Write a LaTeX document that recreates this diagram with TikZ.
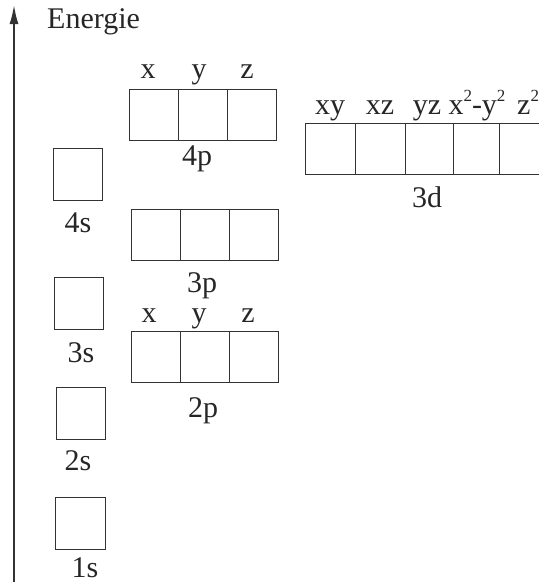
\documentclass[tikz,border=0pt]{standalone}
\usepackage{fontspec}
\setmainfont{Liberation Serif}
\usetikzlibrary{arrows.meta}
\newcommand{\supsq}{\raisebox{0.42em}{\fontsize{17}{17}\selectfont 2}}
\begin{document}
\begin{tikzpicture}[x=1pt,y=-1pt,
  orb/.style={draw=black!80,line width=0.9pt,inner sep=0pt,outer sep=0pt,minimum width=49pt,minimum height=51pt,anchor=north west},
  lbl/.style={font=\fontsize{30}{34}\selectfont,text=black!85,inner sep=0pt,anchor=base},
  axis/.style={line width=2.5pt,draw=black!80,-{Latex[length=20pt,width=9pt]}}]
\useasboundingbox (0,0) rectangle (539,582);
% energy axis
\coordinate (axb) at (14,584);
\coordinate (axt) at (14,4);
\draw[axis] (axb) -- (axt);
\node[lbl,anchor=base west] (energie) at (47,28) {Energie};
% s orbitals
\node[orb,minimum width=50pt,minimum height=52pt] (s1) at (55,497) {};
\node[orb,minimum height=52pt] (s2) at (56,387) {};
\node[orb,minimum height=52pt] (s3) at (54,277) {};
\node[orb,minimum height=52pt] (s4) at (53,148) {};
\node[lbl] (l1s) at (85,577) {1s};
\node[lbl] (l2s) at (78,470) {2s};
\node[lbl] (l3s) at (81,362) {3s};
\node[lbl] (l4s) at (78,232) {4s};
% 2p
\node[orb] (p2x) at (131,331) {};
\node[orb] (p2y) at (180,331) {};
\node[orb] (p2z) at (229,331) {};
\node[lbl] (l2px) at (149,322) {x};
\node[lbl] (l2py) at (199,322) {y};
\node[lbl] (l2pz) at (248,322) {z};
\node[lbl] (l2p) at (203,417) {2p};
% 3p
\node[orb] (p3x) at (131,209) {};
\node[orb] (p3y) at (180,209) {};
\node[orb] (p3z) at (229,209) {};
\node[lbl] (l3p) at (202,292) {3p};
% 4p
\node[orb] (p4x) at (129,89) {};
\node[orb] (p4y) at (178,89) {};
\node[orb] (p4z) at (227,89) {};
\node[lbl] (l4px) at (148,78) {x};
\node[lbl] (l4py) at (199,78) {y};
\node[lbl] (l4pz) at (247,78) {z};
\node[lbl] (l4p) at (197,165) {4p};
% 3d
\node[orb,minimum width=50pt] (dxy) at (305,123) {};
\node[orb,minimum width=50pt] (dxz) at (355,123) {};
\node[orb,minimum width=48pt] (dyz) at (405,123) {};
\node[orb,minimum width=46pt] (dx2) at (453,123) {};
\node[orb,minimum width=48pt] (dz2) at (499,123) {};
\node[lbl] (ldxy) at (330,114) {xy};
\node[lbl] (ldxz) at (380,114) {xz};
\node[lbl] (ldyz) at (427,114) {yz};
\node[lbl] (ldx2) at (477,114) {x\supsq-y\supsq};
\node[lbl,anchor=base west] (ldz2) at (517,114) {z\supsq};
\node[lbl] (l3d) at (427,207) {3d};
\end{tikzpicture}
\end{document}
